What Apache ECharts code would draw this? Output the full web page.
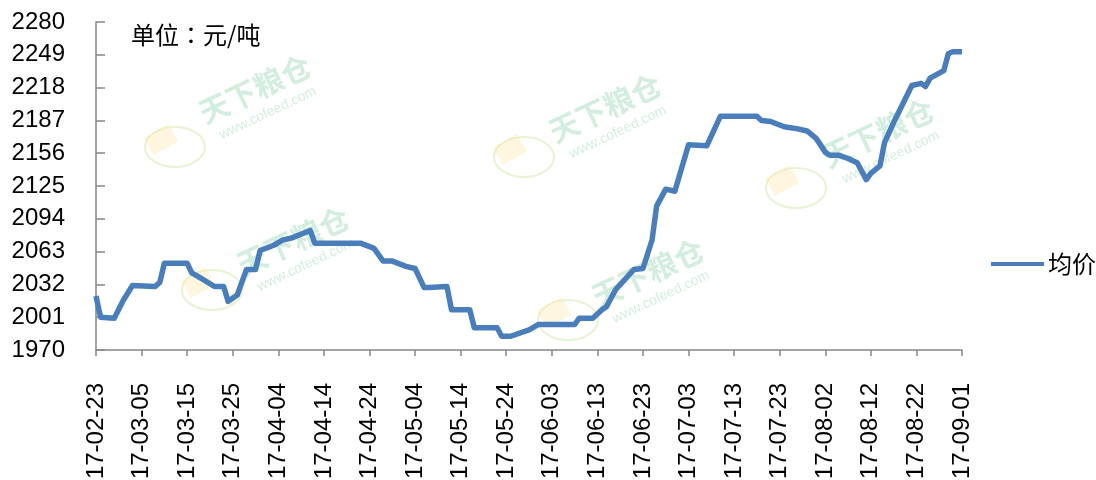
<!DOCTYPE html>
<html>
<head>
<meta charset="utf-8">
<script src="https://cdn.jsdelivr.net/npm/echarts@6/dist/echarts.min.js"></script>
<style>
html,body{margin:0;padding:0;background:#fff;}
#chart{width:1096px;height:480px;}
</style>
</head>
<body>
<div id="chart"></div>
<script>
// ---- data ----
var startDate = '2017-02-23';
var dayCount = 191; // 2017-02-23 .. 2017-09-01
// vertices: day offset from start date, and price (元/吨)
var pointDays = [0,1,4,6,8,13,14,15,20,21,23,26,28,29,31,33,35,36,39,41,43,47,48,58,61,63,65,68,70,72,73,77,78,82,83,88,89,91,95,97,105,106,109,111,112,114,118,120,122,123,125,127,130,134,137,145,146,148,151,154,156,158,160,161,163,165,167,169,170,172,173,175,179,181,182,183,186,187,188,190];
var pointValues = [2021,2001,2000,2017,2031,2030,2034,2052,2052,2043,2038,2030,2030,2016,2022,2046,2046,2064,2069,2074,2076,2083,2071,2071,2066,2054,2054,2049,2047,2029,2029,2030,2008,2008,1991,1991,1983,1983,1989,1994,1994,2000,2000,2008,2011,2027,2046,2047,2074,2106,2122,2120,2164,2163,2191,2191,2187,2186,2181,2179,2177,2170,2157,2154,2154,2151,2147,2131,2137,2144,2166,2185,2220,2222,2219,2227,2234,2250,2252,2252];
var yTicks = [1970,2001,2032,2063,2094,2125,2156,2187,2218,2249,2280];
var seriesName = '均价';
var unitText = '单位：元/吨';

// build category axis (every calendar day) and series with gaps
function pad(n){return n<10?'0'+n:''+n;}
var categories = [];
var base = new Date(startDate + 'T00:00:00Z');
for (var i = 0; i < dayCount; i++) {
  var d = new Date(base.getTime() + i*86400000);
  categories.push(d.getUTCFullYear() + '-' + pad(d.getUTCMonth()+1) + '-' + pad(d.getUTCDate()));
}
var seriesData = categories.map(function(){return null;});
pointDays.forEach(function(day, k){ seriesData[day] = pointValues[k]; });

// watermark placements (decorative)
var marks = [[207,128],[245,280],[557,147],[600,312],[830,172]];
var logos = [[175,147],[212,290],[524,157],[568,320],[796,188]];
var graphics = [];
logos.forEach(function(p){
  graphics.push({type:'ellipse', shape:{cx:p[0], cy:p[1], rx:30, ry:20}, style:{fill:'rgba(255,255,255,0)', stroke:'rgba(205,228,160,0.45)', lineWidth:2}, z:-1, silent:true});
  graphics.push({type:'rect', x:p[0]-4, y:p[1]-6, rotation:0.5, shape:{x:-22, y:-16, width:28, height:20}, style:{fill:'rgba(252,228,160,0.35)'}, z:-1, silent:true});
});
marks.forEach(function(p){
  graphics.push({type:'text', x:p[0], y:p[1], rotation:0.44,
    style:{text:'天下粮仓', fontSize:30, fontWeight:'bold', fontFamily:'Noto Sans CJK SC', fill:'rgba(130,205,160,0.35)', textVerticalAlign:'bottom', textAlign:'left'}, z:-1, silent:true});
  graphics.push({type:'text', x:p[0]+16, y:p[1]+14, rotation:0.44,
    style:{text:'www.cofeed.com', fontSize:14, fontFamily:'Liberation Sans', fill:'rgba(130,205,160,0.35)', textVerticalAlign:'bottom', textAlign:'left'}, z:-1, silent:true});
});

var chart = echarts.init(document.getElementById('chart'), null, {renderer:'canvas'});
chart.setOption({
  animation:false,
  backgroundColor:'#fff',
  graphic: graphics,
  title:{
    text: unitText, left:126, top:18,
    textStyle:{fontSize:24, fontWeight:'normal', color:'#000', fontFamily:'Noto Sans CJK TC'}
  },
  legend:{
    data:[seriesName], left:986, top:247, icon:'rect', itemWidth:53, itemHeight:4, itemGap:5,
    textStyle:{fontSize:24, color:'#000', fontFamily:'Noto Sans CJK SC', padding:[0,0,0,-1]}
  },
  grid:{left:96, right:134, top:22, bottom:130, containLabel:false, outerBoundsMode:'none'},
  xAxis:{
    type:'category', data:categories, boundaryGap:false,
    axisLine:{lineStyle:{color:'#868686', width:1.5}},
    axisTick:{interval:9, length:6, lineStyle:{color:'#868686', width:1.5}},
    axisLabel:{interval:9, rotate:90, margin:33, fontSize:24, color:'#000', fontFamily:'Liberation Sans'},
    splitLine:{show:false}
  },
  yAxis:{
    type:'value', min:1970, max:2280,
    axisLine:{show:true, lineStyle:{color:'#868686', width:1.5}},
    axisTick:{show:true, inside:true, length:9, customValues:yTicks, lineStyle:{color:'#868686', width:1.5}},
    axisLabel:{customValues:yTicks, margin:31, fontSize:24, color:'#000', fontFamily:'Liberation Sans',
      formatter:function(v){return String(v);}},
    splitLine:{show:false}
  },
  series:[{
    name:seriesName, type:'line', data:seriesData, connectNulls:true,
    showSymbol:false, symbol:'none',
    lineStyle:{color:'#4a7ebb', width:5.5, join:'round'},
    itemStyle:{color:'#4a7ebb'}
  }]
});
</script>
</body>
</html>
